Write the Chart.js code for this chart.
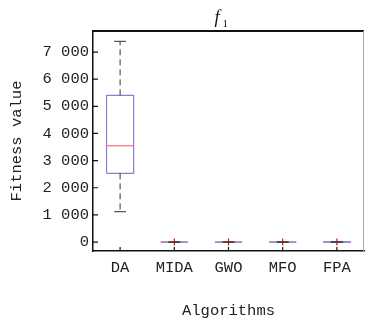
<!DOCTYPE html>
<html lang="en">
<head>
  <meta charset="UTF-8">
  <title>f1 boxplot</title>
  <script src="https://cdn.jsdelivr.net/npm/chart.js"></script>
  <style>
    body {
      margin: 0;
      background: #fff;
    }
    #wrap {
      width: 365px;
      height: 320px;
    }
  </style>
</head>
<body>
  <div id="wrap">
    <canvas id="boxChart" width="365" height="320"></canvas>
  </div>

  <script>
    // values
    const categories = ['DA', 'MIDA', 'GWO', 'MFO', 'FPA'];
    const lowerWhisker = [1117, 0, 0, 0, 0];
    const q1 = [2531, 0, 0, 0, 0];
    const median = [3548, 0, 0, 0, 0];
    const q3 = [5405, 0, 0, 0, 3];
    const upperWhisker = [7395, 0, 0, 0, 3];
    const outliers = [[], [0], [0], [0], [0]];
    const yTicks = [0, 1000, 2000, 3000, 4000, 5000, 6000, 7000];

    const boxHalf = 0.25;
    const capHalf = 0.11;
    const labelFont = { family: "'Liberation Mono', monospace", size: 15.5 };

    const datasets = [];

    categories.forEach((name, i) => {
      // dashed whiskers
      datasets.push({
        data: [{ x: i, y: q3[i] }, { x: i, y: upperWhisker[i] }],
        borderColor: '#333', borderWidth: 1, borderDash: [6, 4]
      });
      datasets.push({
        data: [{ x: i, y: q1[i] }, { x: i, y: lowerWhisker[i] }],
        borderColor: '#333', borderWidth: 1, borderDash: [6, 4]
      });
      // caps
      datasets.push({
        data: [{ x: i - capHalf, y: upperWhisker[i] }, { x: i + capHalf, y: upperWhisker[i] }],
        borderColor: '#333', borderWidth: 1
      });
      datasets.push({
        data: [{ x: i - capHalf, y: lowerWhisker[i] }, { x: i + capHalf, y: lowerWhisker[i] }],
        borderColor: '#333', borderWidth: 1
      });
      // box
      datasets.push({
        data: [
          { x: i - boxHalf, y: q1[i] }, { x: i + boxHalf, y: q1[i] },
          { x: i + boxHalf, y: q3[i] }, { x: i - boxHalf, y: q3[i] },
          { x: i - boxHalf, y: q1[i] }
        ],
        borderColor: '#8484cc', borderWidth: 1.2
      });
      // median
      datasets.push({
        data: [{ x: i - boxHalf, y: median[i] }, { x: i + boxHalf, y: median[i] }],
        borderColor: '#f26d7d', borderWidth: 1.2
      });
      // outliers
      if (outliers[i].length) {
        datasets.push({
          data: outliers[i].map(v => ({ x: i, y: v })),
          showLine: false,
          pointStyle: 'cross',
          pointRadius: 3.5,
          pointBorderColor: '#ff0000',
          pointBorderWidth: 1.2
        });
      }
    });

    datasets.forEach(d => {
      if (d.showLine === undefined) d.showLine = true;
      if (d.pointRadius === undefined) d.pointRadius = 0;
      d.fill = false;
      d.tension = 0;
    });

    const framePlugin = {
      id: 'frame',
      beforeDatasetsDraw(chart) {
        const ctx = chart.ctx;
        const a = chart.chartArea;
        const xs = chart.scales.x;
        const ys = chart.scales.y;
        ctx.save();
        // inward ticks
        ctx.strokeStyle = '#111';
        ctx.lineWidth = 1.2;
        ctx.beginPath();
        ys.ticks.forEach((t, i) => {
          const y = ys.getPixelForTick(i);
          ctx.moveTo(a.left, y);
          ctx.lineTo(a.left + 5, y);
        });
        xs.ticks.forEach((t, i) => {
          const x = xs.getPixelForTick(i);
          ctx.moveTo(x, a.bottom);
          ctx.lineTo(x, a.bottom - 4);
        });
        ctx.stroke();
        ctx.restore();
      },
      afterDatasetsDraw(chart) {
        const ctx = chart.ctx;
        const a = chart.chartArea;
        ctx.save();
        // top and right border
        ctx.strokeStyle = '#111';
        ctx.lineWidth = 2;
        ctx.beginPath();
        ctx.moveTo(a.left, a.top);
        ctx.lineTo(a.right, a.top);
        ctx.stroke();
        ctx.strokeStyle = '#aaa';
        ctx.lineWidth = 1;
        ctx.beginPath();
        ctx.moveTo(a.right - 0.5, a.top);
        ctx.lineTo(a.right - 0.5, a.bottom);
        ctx.stroke();
        // title f_1
        const cx = (a.left + a.right) / 2 - 8;
        ctx.fillStyle = '#111';
        ctx.textBaseline = 'alphabetic';
        ctx.font = "italic 18px 'Liberation Serif', serif";
        ctx.fillText('f', cx - 6, 23);
        ctx.font = "11px 'Liberation Serif', serif";
        ctx.fillText('1', cx + 2, 27);
        ctx.restore();
      }
    };

    new Chart(document.getElementById('boxChart'), {
      type: 'scatter',
      data: { datasets: datasets },
      options: {
        responsive: false,
        animation: false,
        layout: { autoPadding: false, padding: { top: 31, right: 1, left: 0, bottom: 0 } },
        plugins: {
          legend: { display: false },
          tooltip: { enabled: false }
        },
        scales: {
          x: {
            type: 'linear',
            min: -0.5,
            max: 4.5,
            afterBuildTicks: s => { s.ticks = categories.map((c, i) => ({ value: i })); },
            afterFit: s => { s.height = 69; s.paddingLeft = 0; s.paddingRight = 0; },
            grid: { display: false, drawTicks: false },
            border: { display: true, color: '#111', width: 1.5 },
            ticks: {
              color: '#222',
              font: labelFont,
              padding: 8,
              autoSkip: false,
              maxRotation: 0,
              callback: v => categories[v]
            },
            title: {
              display: true,
              text: 'Algorithms',
              color: '#222',
              font: labelFont,
              padding: { top: 0, bottom: 0 }
            }
          },
          y: {
            min: -330,
            max: 7775,
            afterBuildTicks: s => { s.ticks = yTicks.map(v => ({ value: v })); },
            afterFit: s => { s.width = 93; s.paddingTop = 0; s.paddingBottom = 0; },
            grid: { display: false, drawTicks: false },
            border: { display: true, color: '#111', width: 1.5 },
            ticks: {
              color: '#222',
              font: labelFont,
              padding: 4,
              callback: v => v >= 1000 ? Math.floor(v / 1000) + ' ' + String(v % 1000).padStart(3, '0') : String(v)
            },
            title: {
              display: true,
              text: 'Fitness value',
              color: '#222',
              font: labelFont,
              padding: { top: 8, bottom: 0 }
            }
          }
        }
      },
      plugins: [framePlugin]
    });
  </script>
</body>
</html>
